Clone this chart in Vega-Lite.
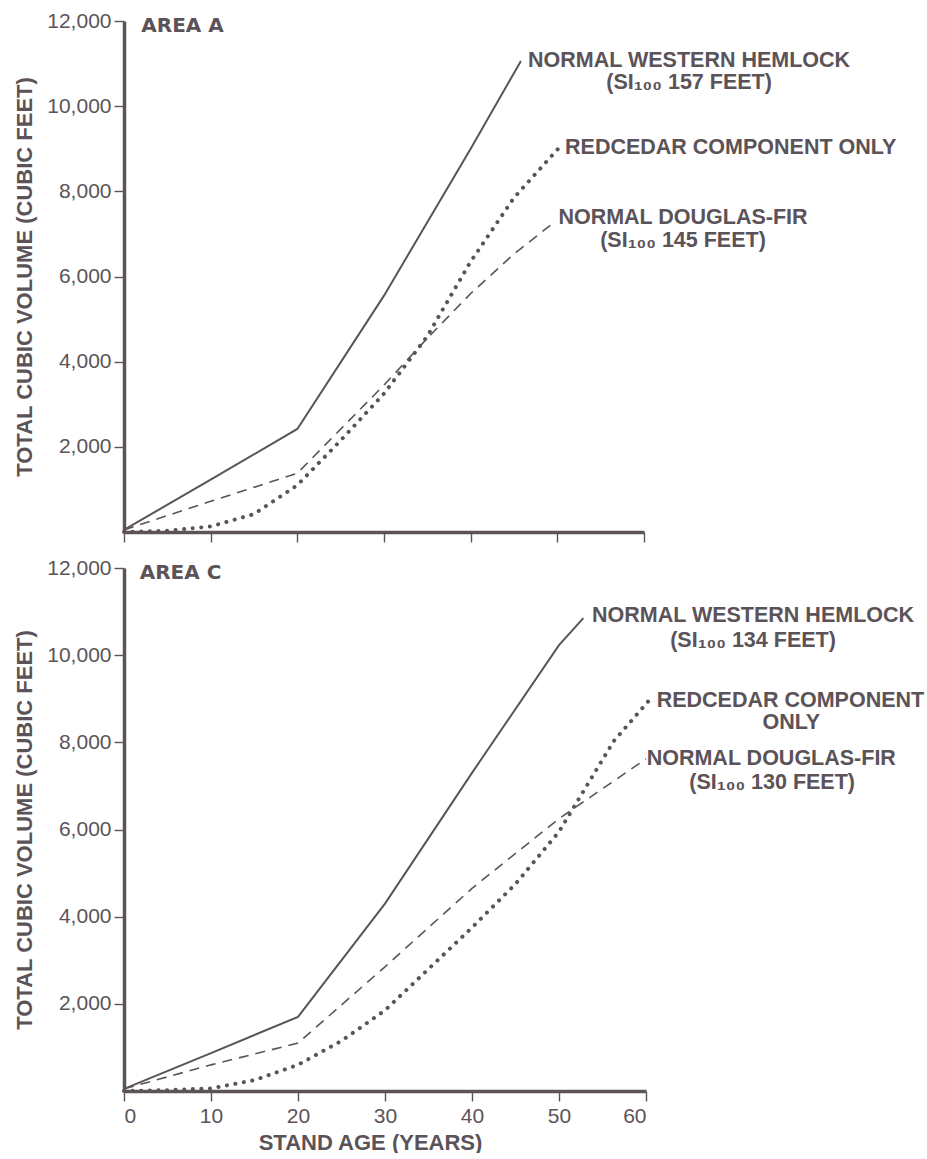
{
  "$schema": "https://vega.github.io/schema/vega-lite/v6.json",
  "padding": {"left": 13, "top": 10, "right": 0, "bottom": 0},
  "bounds": "flush",
  "spacing": 36,
  "background": "white",
  "config": {
    "view": {"stroke": null},
    "font": "Liberation Sans",
    "axis": {
      "labelFont": "Liberation Sans", "labelFontSize": 21, "labelColor": "#5b5358",
      "titleFont": "Liberation Sans", "titleFontSize": 22, "titleFontWeight": "bold", "titleColor": "#5b5358",
      "domainColor": "#5b5358", "domainWidth": 3.5, "tickColor": "#5b5358", "tickWidth": 1.4, "tickSize": 10, "grid": false, "labelPadding": 3
    }
  },
  "datasets": {
    "lines": [
      {"area": "A", "s": "hemlock", "age": 0, "vol": 50},
      {"area": "A", "s": "hemlock", "age": 10, "vol": 1230},
      {"area": "A", "s": "hemlock", "age": 20, "vol": 2420},
      {"area": "A", "s": "hemlock", "age": 30, "vol": 5550},
      {"area": "A", "s": "hemlock", "age": 40, "vol": 9000},
      {"area": "A", "s": "hemlock", "age": 45.8, "vol": 11060},
      {"area": "A", "s": "cedar", "age": 0, "vol": 0},
      {"area": "A", "s": "cedar", "age": 5, "vol": 30},
      {"area": "A", "s": "cedar", "age": 10, "vol": 130},
      {"area": "A", "s": "cedar", "age": 15, "vol": 420},
      {"area": "A", "s": "cedar", "age": 20, "vol": 1100},
      {"area": "A", "s": "cedar", "age": 25, "vol": 2150},
      {"area": "A", "s": "cedar", "age": 30, "vol": 3250},
      {"area": "A", "s": "cedar", "age": 35, "vol": 4600},
      {"area": "A", "s": "cedar", "age": 40, "vol": 6350},
      {"area": "A", "s": "cedar", "age": 45, "vol": 7850},
      {"area": "A", "s": "cedar", "age": 50.4, "vol": 9070},
      {"area": "A", "s": "fir", "age": 0, "vol": 50},
      {"area": "A", "s": "fir", "age": 10, "vol": 720},
      {"area": "A", "s": "fir", "age": 20, "vol": 1380},
      {"area": "A", "s": "fir", "age": 30, "vol": 3450},
      {"area": "A", "s": "fir", "age": 35, "vol": 4550},
      {"area": "A", "s": "fir", "age": 40, "vol": 5600},
      {"area": "A", "s": "fir", "age": 45, "vol": 6530},
      {"area": "A", "s": "fir", "age": 49.8, "vol": 7300},
      {"area": "C", "s": "hemlock", "age": 0, "vol": 50},
      {"area": "C", "s": "hemlock", "age": 10, "vol": 870},
      {"area": "C", "s": "hemlock", "age": 20, "vol": 1700},
      {"area": "C", "s": "hemlock", "age": 30, "vol": 4300},
      {"area": "C", "s": "hemlock", "age": 40, "vol": 7300},
      {"area": "C", "s": "hemlock", "age": 50, "vol": 10230},
      {"area": "C", "s": "hemlock", "age": 52.8, "vol": 10850},
      {"area": "C", "s": "cedar", "age": 0, "vol": 0},
      {"area": "C", "s": "cedar", "age": 5, "vol": 20},
      {"area": "C", "s": "cedar", "age": 10, "vol": 60},
      {"area": "C", "s": "cedar", "age": 15, "vol": 250},
      {"area": "C", "s": "cedar", "age": 20, "vol": 600},
      {"area": "C", "s": "cedar", "age": 25, "vol": 1150},
      {"area": "C", "s": "cedar", "age": 30, "vol": 1850},
      {"area": "C", "s": "cedar", "age": 35, "vol": 2800},
      {"area": "C", "s": "cedar", "age": 40, "vol": 3750},
      {"area": "C", "s": "cedar", "age": 45, "vol": 4750},
      {"area": "C", "s": "cedar", "age": 50, "vol": 5950},
      {"area": "C", "s": "cedar", "age": 54, "vol": 7270},
      {"area": "C", "s": "cedar", "age": 56.3, "vol": 8030},
      {"area": "C", "s": "cedar", "age": 60.3, "vol": 8950},
      {"area": "C", "s": "fir", "age": 0, "vol": 50},
      {"area": "C", "s": "fir", "age": 10, "vol": 600},
      {"area": "C", "s": "fir", "age": 20, "vol": 1100},
      {"area": "C", "s": "fir", "age": 30, "vol": 2850},
      {"area": "C", "s": "fir", "age": 40, "vol": 4650},
      {"area": "C", "s": "fir", "age": 50, "vol": 6250},
      {"area": "C", "s": "fir", "age": 60, "vol": 7620}
    ],
    "labels": [
      {"area": "A", "text": "NORMAL WESTERN HEMLOCK", "age": 65.2, "vol": 11060},
      {"area": "A", "text": "(SI₁₀₀ 157 FEET)", "age": 65.2, "vol": 10545},
      {"area": "A", "text": "REDCEDAR COMPONENT ONLY", "age": 70.0, "vol": 9020},
      {"area": "A", "text": "NORMAL DOUGLAS-FIR", "age": 64.5, "vol": 7375},
      {"area": "A", "text": "(SI₁₀₀ 145 FEET)", "age": 64.5, "vol": 6835},
      {"area": "C", "text": "NORMAL WESTERN HEMLOCK", "age": 72.3, "vol": 10900},
      {"area": "C", "text": "(SI₁₀₀ 134 FEET)", "age": 72.3, "vol": 10330},
      {"area": "C", "text": "REDCEDAR COMPONENT", "age": 76.6, "vol": 8950},
      {"area": "C", "text": "ONLY", "age": 76.7, "vol": 8440},
      {"area": "C", "text": "NORMAL DOUGLAS-FIR", "age": 74.4, "vol": 7620},
      {"area": "C", "text": "(SI₁₀₀ 130 FEET)", "age": 74.5, "vol": 7070}
    ],
    "areas": [
      {"area": "A", "text": "AREA A", "age": 2.0, "vol": 11880},
      {"area": "C", "text": "AREA C", "age": 1.8, "vol": 11890}
    ]
  },
  "vconcat": [
    {
      "width": 520, "height": 511,
      "layer": [
        {
          "data": {"name": "lines"},
          "transform": [{"filter": "datum.area == 'A' && datum.s == 'hemlock'"}],
          "mark": {"type": "line", "color": "#5b5358", "strokeWidth": 2},
          "encoding": {
            "x": {"field": "age", "type": "quantitative", "scale": {"domain": [0, 60], "nice": false},
                  "axis": {"values": [0, 10, 20, 30, 40, 50, 60], "labels": false, "title": null}},
            "y": {"field": "vol", "type": "quantitative", "scale": {"domain": [0, 12000], "nice": false},
                  "axis": {"values": [2000, 4000, 6000, 8000, 10000, 12000], "format": ",.0f", "title": "TOTAL CUBIC VOLUME (CUBIC FEET)", "titlePadding": 10}}
          }
        },
        {
          "data": {"name": "lines"},
          "transform": [{"filter": "datum.area == 'A' && datum.s == 'fir'"}],
          "mark": {"type": "line", "color": "#5b5358", "strokeWidth": 1.6, "strokeDash": [10, 7]},
          "encoding": {"x": {"field": "age", "type": "quantitative"}, "y": {"field": "vol", "type": "quantitative"}}
        },
        {
          "data": {"name": "lines"},
          "transform": [{"filter": "datum.area == 'A' && datum.s == 'cedar'"}],
          "mark": {"type": "line", "color": "#5b5358", "strokeWidth": 4, "strokeDash": [0.1, 8.5], "strokeCap": "round"},
          "encoding": {"x": {"field": "age", "type": "quantitative"}, "y": {"field": "vol", "type": "quantitative"}}
        },
        {
          "data": {"name": "labels"},
          "transform": [{"filter": "datum.area == 'A'"}],
          "mark": {"type": "text", "align": "center", "baseline": "middle", "font": "Liberation Sans", "fontWeight": "bold", "fontSize": 21.5, "color": "#5b5358"},
          "encoding": {"x": {"field": "age", "type": "quantitative"}, "y": {"field": "vol", "type": "quantitative"}, "text": {"field": "text"}}
        },
        {
          "data": {"name": "areas"},
          "transform": [{"filter": "datum.area == 'A'"}],
          "mark": {"type": "text", "align": "left", "baseline": "middle", "font": "DejaVu Sans", "fontWeight": "bold", "fontSize": 20, "color": "#5b5358"},
          "encoding": {"x": {"field": "age", "type": "quantitative"}, "y": {"field": "vol", "type": "quantitative"}, "text": {"field": "text"}}
        }
      ]
    },
    {
      "width": 522, "height": 523,
      "layer": [
        {
          "data": {"name": "lines"},
          "transform": [{"filter": "datum.area == 'C' && datum.s == 'hemlock'"}],
          "mark": {"type": "line", "color": "#5b5358", "strokeWidth": 2},
          "encoding": {
            "x": {"field": "age", "type": "quantitative", "scale": {"domain": [0, 60], "nice": false},
                  "axis": {"values": [0, 10, 20, 30, 40, 50, 60], "title": "STAND AGE (YEARS)", "titlePadding": 6, "labelPadding": 4, "titleX": 246}},
            "y": {"field": "vol", "type": "quantitative", "scale": {"domain": [0, 12000], "nice": false},
                  "axis": {"values": [2000, 4000, 6000, 8000, 10000, 12000], "format": ",.0f", "title": "TOTAL CUBIC VOLUME (CUBIC FEET)", "titlePadding": 10}}
          }
        },
        {
          "data": {"name": "lines"},
          "transform": [{"filter": "datum.area == 'C' && datum.s == 'fir'"}],
          "mark": {"type": "line", "color": "#5b5358", "strokeWidth": 1.6, "strokeDash": [10, 7]},
          "encoding": {"x": {"field": "age", "type": "quantitative"}, "y": {"field": "vol", "type": "quantitative"}}
        },
        {
          "data": {"name": "lines"},
          "transform": [{"filter": "datum.area == 'C' && datum.s == 'cedar'"}],
          "mark": {"type": "line", "color": "#5b5358", "strokeWidth": 4, "strokeDash": [0.1, 8.5], "strokeCap": "round"},
          "encoding": {"x": {"field": "age", "type": "quantitative"}, "y": {"field": "vol", "type": "quantitative"}}
        },
        {
          "data": {"name": "labels"},
          "transform": [{"filter": "datum.area == 'C'"}],
          "mark": {"type": "text", "align": "center", "baseline": "middle", "font": "Liberation Sans", "fontWeight": "bold", "fontSize": 21.5, "color": "#5b5358"},
          "encoding": {"x": {"field": "age", "type": "quantitative"}, "y": {"field": "vol", "type": "quantitative"}, "text": {"field": "text"}}
        },
        {
          "data": {"name": "areas"},
          "transform": [{"filter": "datum.area == 'C'"}],
          "mark": {"type": "text", "align": "left", "baseline": "middle", "font": "DejaVu Sans", "fontWeight": "bold", "fontSize": 20, "color": "#5b5358"},
          "encoding": {"x": {"field": "age", "type": "quantitative"}, "y": {"field": "vol", "type": "quantitative"}, "text": {"field": "text"}}
        }
      ]
    }
  ]
}
